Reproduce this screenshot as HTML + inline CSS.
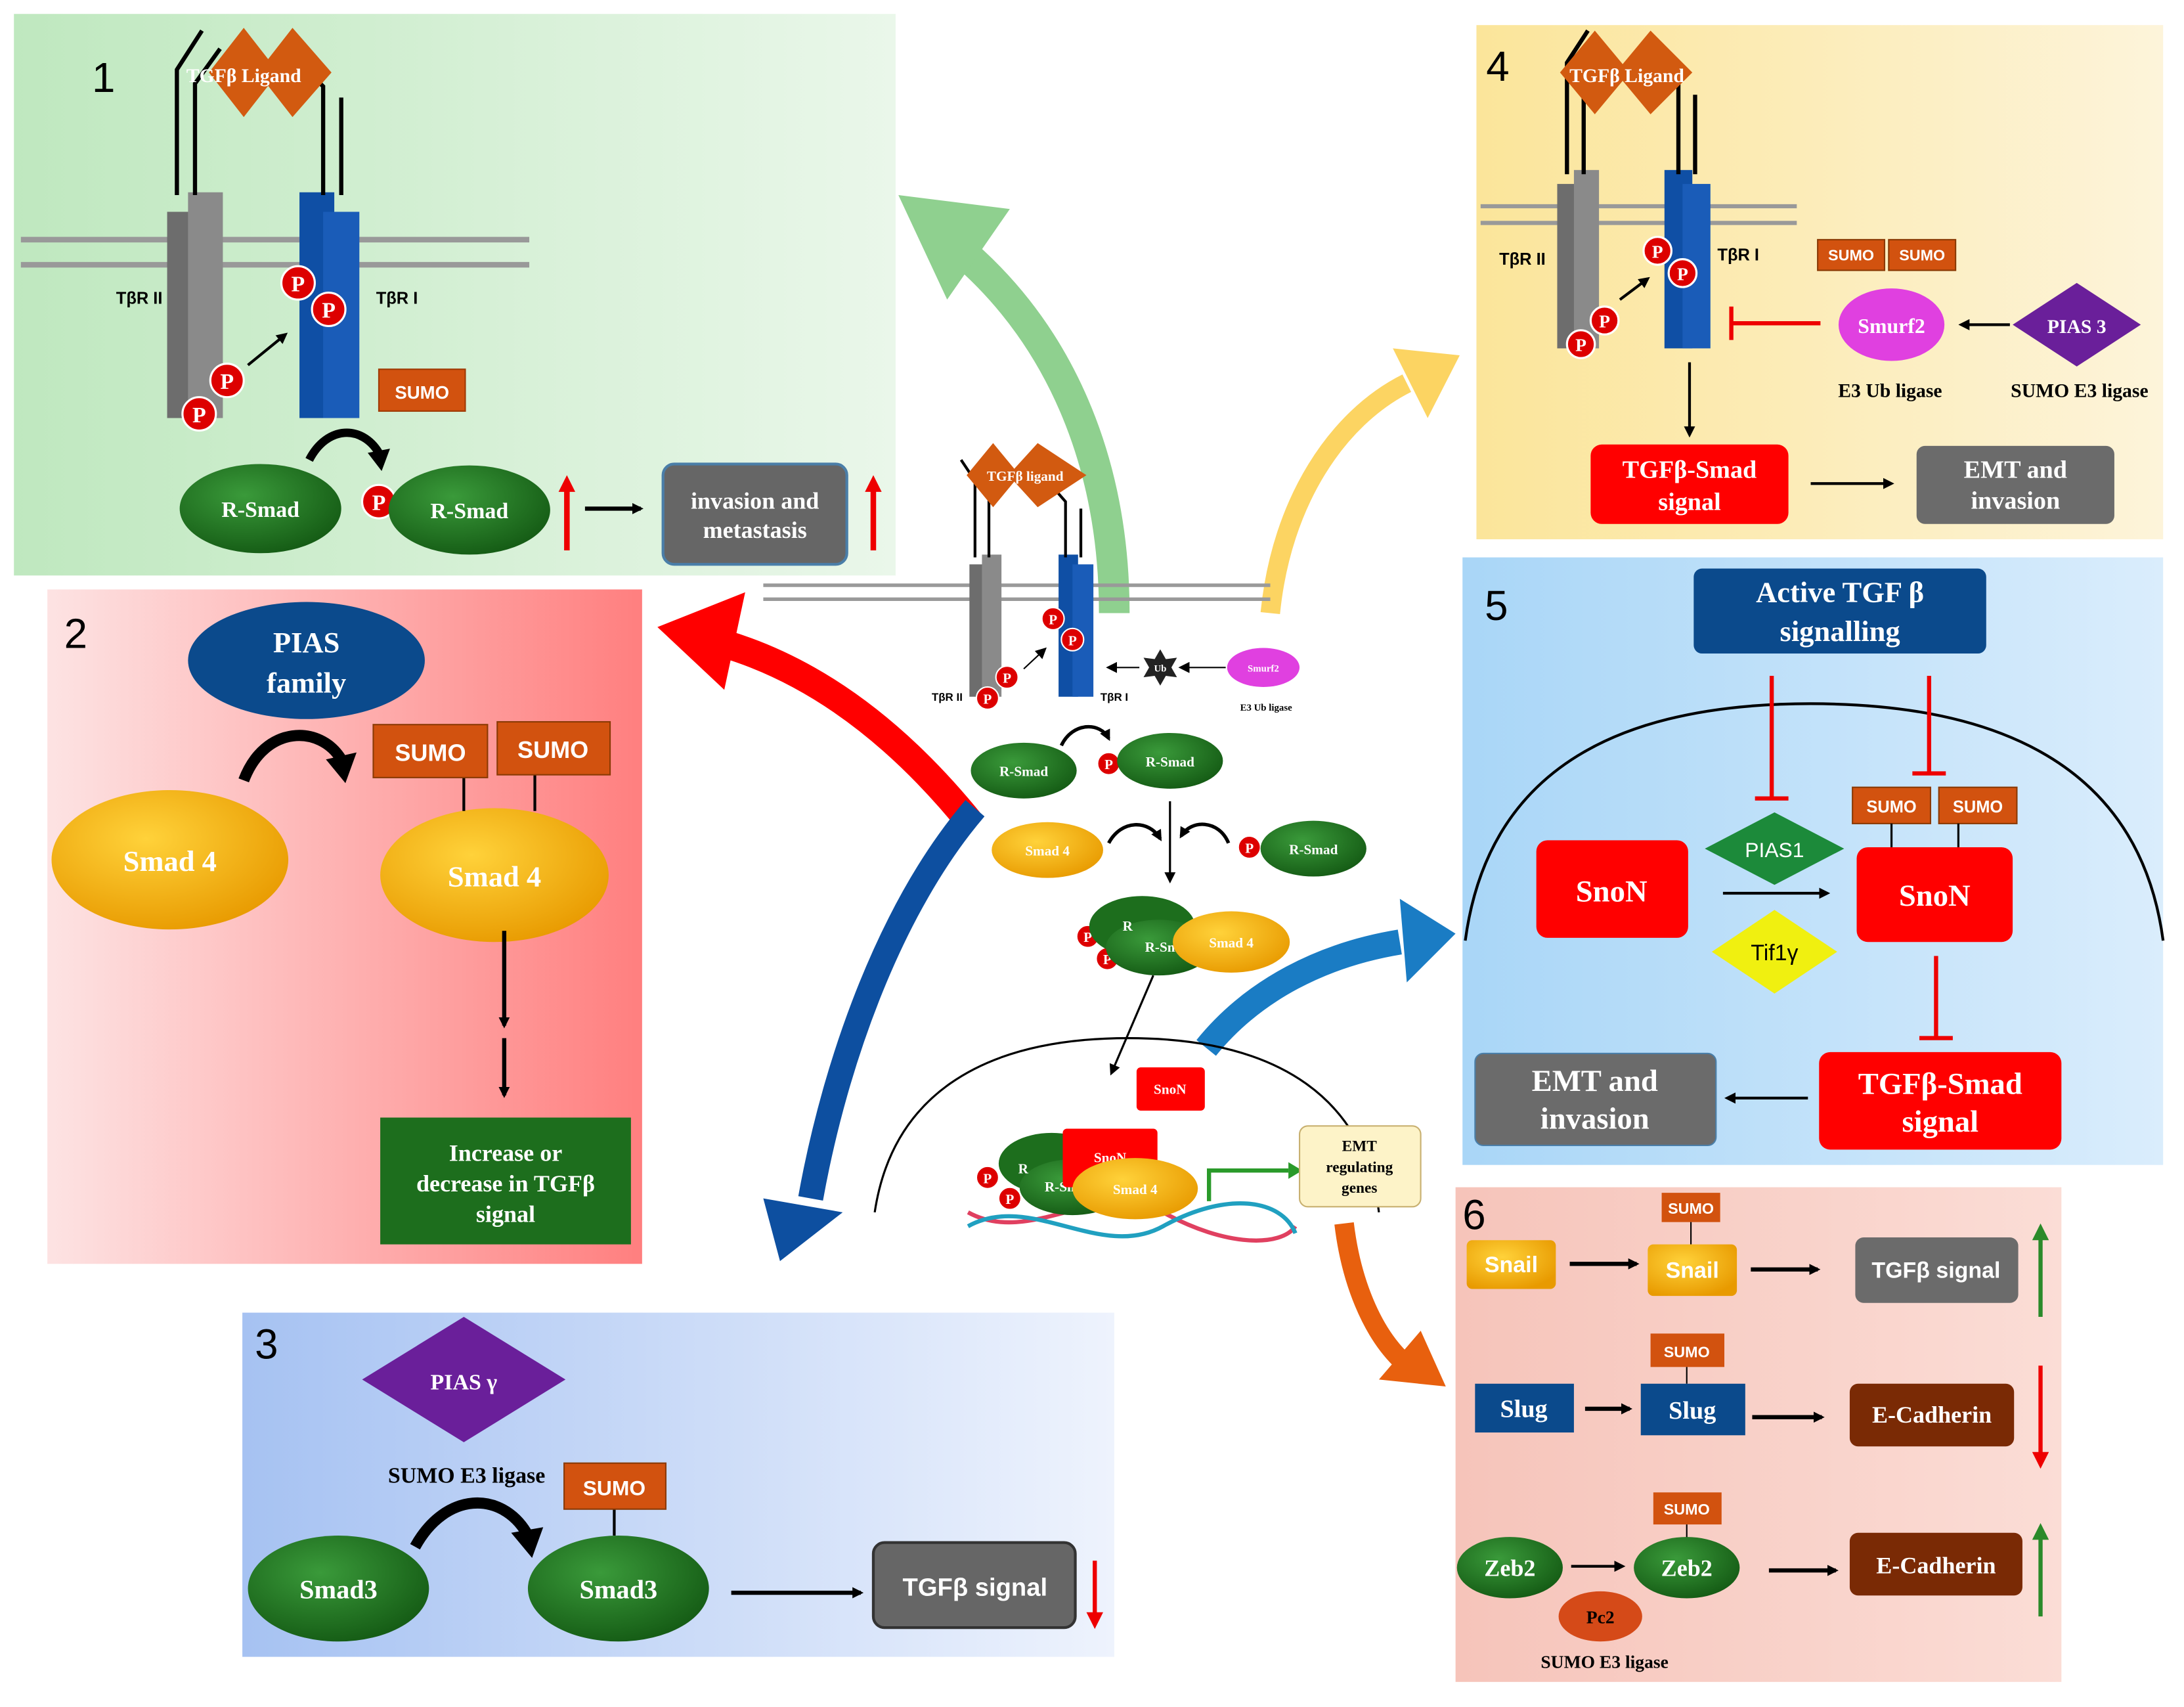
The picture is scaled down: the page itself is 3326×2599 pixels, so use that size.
<!DOCTYPE html>
<html><head><meta charset="utf-8"><style>html,body{margin:0;padding:0;background:#fff}svg{display:block}text{font-family:"Liberation Serif",serif;font-weight:bold}</style></head>
<body>
<svg width="3326" height="2599" viewBox="0 0 1568 1225" preserveAspectRatio="none" xmlns="http://www.w3.org/2000/svg">
<defs>
<linearGradient id="g1" x1="0" y1="0" x2="1" y2="0"><stop offset="0" stop-color="#bfe8bf"/><stop offset="1" stop-color="#eaf7ea"/></linearGradient>
<linearGradient id="g2" x1="0" y1="0" x2="1" y2="0"><stop offset="0" stop-color="#fde3e3"/><stop offset="1" stop-color="#ff7f7f"/></linearGradient>
<linearGradient id="g3" x1="0" y1="0" x2="1" y2="0"><stop offset="0" stop-color="#a6c2f2"/><stop offset="1" stop-color="#eef3fd"/></linearGradient>
<linearGradient id="g4" x1="0" y1="0" x2="1" y2="0"><stop offset="0" stop-color="#fbe59a"/><stop offset="1" stop-color="#fdf4da"/></linearGradient>
<linearGradient id="g5" x1="0" y1="0" x2="1" y2="0"><stop offset="0" stop-color="#a9d6f7"/><stop offset="1" stop-color="#daedfc"/></linearGradient>
<linearGradient id="g6" x1="0" y1="0" x2="1" y2="0"><stop offset="0" stop-color="#f6c4ba"/><stop offset="1" stop-color="#fbddd6"/></linearGradient>
<radialGradient id="gs" cx="0.4" cy="0.35" r="0.7"><stop offset="0" stop-color="#3a9a3a"/><stop offset="1" stop-color="#145a14"/></radialGradient>
<radialGradient id="ys" cx="0.4" cy="0.35" r="0.7"><stop offset="0" stop-color="#ffd23a"/><stop offset="1" stop-color="#e89a00"/></radialGradient>
<marker id="ah" markerWidth="8" markerHeight="8" refX="6" refY="4" orient="auto" markerUnits="userSpaceOnUse"><path d="M0,0 L8,4 L0,8 z" fill="#000"/></marker>
<marker id="ahr" markerWidth="12" markerHeight="12" refX="8" refY="6" orient="auto" markerUnits="userSpaceOnUse"><path d="M0,0 L12,6 L0,12 z" fill="#e00"/></marker>
<marker id="ahg" markerWidth="12" markerHeight="12" refX="8" refY="6" orient="auto" markerUnits="userSpaceOnUse"><path d="M0,0 L12,6 L0,12 z" fill="#2a8a2a"/></marker>
</defs>
<rect width="1568" height="1225" fill="#fff"/>

<!-- panels -->
<rect x="10" y="10" width="633" height="403" fill="url(#g1)"/>
<rect x="34" y="423" width="427" height="484" fill="url(#g2)"/>
<rect x="174" y="942" width="626" height="247" fill="url(#g3)"/>
<rect x="1060" y="18" width="493" height="369" fill="url(#g4)"/>
<rect x="1050" y="400" width="503" height="436" fill="url(#g5)"/>
<rect x="1045" y="852" width="435" height="355" fill="url(#g6)"/>

<g font-family="Liberation Sans" font-size="30" fill="#000" style="font-weight:normal">
<text x="66" y="66" style="font-family:'Liberation Sans';font-weight:normal">1</text>
<text x="46" y="465" style="font-family:'Liberation Sans';font-weight:normal">2</text>
<text x="183" y="975" style="font-family:'Liberation Sans';font-weight:normal">3</text>
<text x="1067" y="58" style="font-family:'Liberation Sans';font-weight:normal">4</text>
<text x="1066" y="445" style="font-family:'Liberation Sans';font-weight:normal">5</text>
<text x="1050" y="882" style="font-family:'Liberation Sans';font-weight:normal">6</text>
</g>

<!-- big curved arrows -->
<path d="M800,440 C800,330 760,240 690,180" stroke="#8fd08f" stroke-width="22" fill="none"/>
<polygon points="645,140 725,150 680,215" fill="#8fd08f"/>
<path d="M912,440 C920,360 960,300 1010,275" stroke="#fcd462" stroke-width="14" fill="none"/>
<polygon points="1048,255 1000,250 1025,300" fill="#fcd462"/>
<path d="M698,592 C640,520 580,480 520,462" stroke="#f00" stroke-width="20" fill="none"/>
<polygon points="472,450 535,425 520,495" fill="#f00"/>
<path d="M700,580 C640,650 600,760 582,860" stroke="#0d4fa0" stroke-width="18" fill="none"/>
<polygon points="560,905 548,860 605,870" fill="#0d4fa0"/>
<path d="M866,752 C900,710 950,685 1005,676" stroke="#1a7cc4" stroke-width="18" fill="none"/>
<polygon points="1045,670 1005,645 1010,705" fill="#1a7cc4"/>
<path d="M965,878 C970,920 985,955 1005,975" stroke="#e8600e" stroke-width="14" fill="none"/>
<polygon points="1038,995 990,990 1020,955" fill="#e8600e"/>

<!-- Panel 1 -->
<line x1="15" y1="172" x2="380" y2="172" stroke="#999" stroke-width="4"/>
<line x1="15" y1="190" x2="380" y2="190" stroke="#999" stroke-width="4"/>
<rect x="120" y="152" width="25" height="148" fill="#6d6d6d"/><rect x="135" y="138" width="25" height="162" fill="#8a8a8a"/>
<polyline points="127,140 127,50 145,22" stroke="#000" stroke-width="3" fill="none"/>
<polyline points="140,140 140,60 158,35" stroke="#000" stroke-width="3" fill="none"/>
<rect x="215" y="138" width="25" height="162" fill="#0f4fa5"/><rect x="232" y="152" width="26" height="148" fill="#1a5cb8"/>
<polyline points="232,140 232,62 222,52" stroke="#000" stroke-width="3" fill="none"/>
<polyline points="245,140 245,70" stroke="#000" stroke-width="3" fill="none"/>
<polygon points="150,52 175,20 200,52 175,84" fill="#d25a10"/><polygon points="185,52 210,20 238,52 210,84" fill="#d25a10"/>
<text x="175" y="59" font-size="14" fill="#fff" text-anchor="middle">TGFβ Ligand</text>
<text x="100" y="218" font-size="12" fill="#000" text-anchor="middle" style="font-family:'Liberation Sans'">TβR II</text>
<text x="285" y="218" font-size="12" fill="#000" text-anchor="middle" style="font-family:'Liberation Sans'">TβR I</text>
<line x1="178" y1="262" x2="205" y2="240" stroke="#000" stroke-width="2" marker-end="url(#ah)"/>
<g fill="#d00" stroke="#fff" stroke-width="1.5"><circle cx="214" cy="203" r="12"/><circle cx="236" cy="222" r="12"/><circle cx="163" cy="273" r="12"/><circle cx="143" cy="297" r="12"/><circle cx="272" cy="360" r="12"/></g>
<g font-size="16" fill="#fff" text-anchor="middle"><text x="214" y="209">P</text><text x="236" y="228">P</text><text x="163" y="279">P</text><text x="143" y="303">P</text><text x="272" y="366">P</text></g>
<rect x="272" y="265" width="62" height="30" fill="#d2520f" stroke="#a03a05"/><text x="303" y="286" font-size="13" fill="#fff" text-anchor="middle" style="font-family:'Liberation Sans'">SUMO</text>
<ellipse cx="187" cy="365" rx="58" ry="32" fill="url(#gs)"/><text x="187" y="371" font-size="16" fill="#fff" text-anchor="middle">R-Smad</text>
<ellipse cx="337" cy="366" rx="58" ry="32" fill="url(#gs)"/><text x="337" y="372" font-size="16" fill="#fff" text-anchor="middle">R-Smad</text>
<path d="M222,330 C235,305 260,305 272,325" stroke="#000" stroke-width="6" fill="none"/><polygon points="264,325 280,322 274,338" fill="#000"/>
<line x1="407" y1="395" x2="407" y2="345" stroke="#e00" stroke-width="4" marker-end="url(#ahr)"/>
<line x1="420" y1="365" x2="460" y2="365" stroke="#000" stroke-width="3" marker-end="url(#ah)"/>
<rect x="476" y="333" width="132" height="72" rx="8" fill="#666" stroke="#4a7ea8" stroke-width="2"/>
<text x="542" y="365" font-size="17" fill="#fff" text-anchor="middle">invasion and</text><text x="542" y="386" font-size="17" fill="#fff" text-anchor="middle">metastasis</text>
<line x1="627" y1="395" x2="627" y2="345" stroke="#e00" stroke-width="4" marker-end="url(#ahr)"/>

<!-- Panel 2 -->
<ellipse cx="220" cy="474" rx="85" ry="42" fill="#0b4a8c"/>
<text x="220" y="468" font-size="21" fill="#fff" text-anchor="middle">PIAS</text><text x="220" y="497" font-size="21" fill="#fff" text-anchor="middle">family</text>
<ellipse cx="122" cy="617" rx="85" ry="50" fill="url(#ys)"/><text x="122" y="625" font-size="21" fill="#fff" text-anchor="middle">Smad 4</text>
<ellipse cx="355" cy="628" rx="82" ry="48" fill="url(#ys)"/><text x="355" y="636" font-size="21" fill="#fff" text-anchor="middle">Smad 4</text>
<line x1="333" y1="558" x2="333" y2="582" stroke="#000" stroke-width="2"/><line x1="384" y1="556" x2="384" y2="582" stroke="#000" stroke-width="2"/>
<rect x="268" y="520" width="82" height="38" fill="#d2520f" stroke="#8a3a05"/><text x="309" y="546" font-size="17" fill="#fff" text-anchor="middle" style="font-family:'Liberation Sans'">SUMO</text>
<rect x="357" y="518" width="81" height="38" fill="#d2520f" stroke="#8a3a05"/><text x="397" y="544" font-size="17" fill="#fff" text-anchor="middle" style="font-family:'Liberation Sans'">SUMO</text>
<path d="M175,560 C190,520 230,520 245,545" stroke="#000" stroke-width="8" fill="none"/><polygon points="234,545 256,540 248,562" fill="#000"/>
<line x1="362" y1="668" x2="362" y2="736" stroke="#000" stroke-width="3" marker-end="url(#ah)"/>
<line x1="362" y1="745" x2="362" y2="786" stroke="#000" stroke-width="3" marker-end="url(#ah)"/>
<rect x="273" y="802" width="180" height="91" fill="#1d6e1d"/>
<text x="363" y="833" font-size="17" fill="#fff" text-anchor="middle">Increase or</text><text x="363" y="855" font-size="17" fill="#fff" text-anchor="middle">decrease in TGFβ</text><text x="363" y="877" font-size="17" fill="#fff" text-anchor="middle">signal</text>

<!-- Panel 3 -->
<polygon points="260,990 333,945 406,990 333,1035" fill="#6a1f9a"/><text x="333" y="997" font-size="16" fill="#fff" text-anchor="middle">PIAS γ</text>
<text x="335" y="1064" font-size="16" fill="#000" text-anchor="middle">SUMO E3 ligase</text>
<ellipse cx="243" cy="1140" rx="65" ry="38" fill="url(#gs)"/><text x="243" y="1147" font-size="19" fill="#fff" text-anchor="middle">Smad3</text>
<ellipse cx="444" cy="1140" rx="65" ry="38" fill="url(#gs)"/><text x="444" y="1147" font-size="19" fill="#fff" text-anchor="middle">Smad3</text>
<line x1="441" y1="1083" x2="441" y2="1102" stroke="#000" stroke-width="2"/>
<rect x="405" y="1050" width="73" height="33" fill="#d2520f" stroke="#8a3a05"/><text x="441" y="1073" font-size="15" fill="#fff" text-anchor="middle" style="font-family:'Liberation Sans'">SUMO</text>
<path d="M298,1110 C320,1070 360,1070 378,1100" stroke="#000" stroke-width="8" fill="none"/><polygon points="367,1100 390,1096 382,1118" fill="#000"/>
<line x1="525" y1="1143" x2="618" y2="1143" stroke="#000" stroke-width="3" marker-end="url(#ah)"/>
<rect x="627" y="1107" width="145" height="61" rx="8" fill="#666" stroke="#333" stroke-width="2"/><text x="700" y="1145" font-size="18" fill="#fff" text-anchor="middle" style="font-family:'Liberation Sans';font-weight:bold">TGFβ signal</text>
<line x1="786" y1="1120" x2="786" y2="1165" stroke="#e00" stroke-width="3" marker-end="url(#ahr)"/>

<!-- Panel 4 -->
<line x1="1063" y1="148" x2="1290" y2="148" stroke="#999" stroke-width="3"/><line x1="1063" y1="160" x2="1290" y2="160" stroke="#999" stroke-width="3"/>
<rect x="1118" y="132" width="20" height="118" fill="#6d6d6d"/><rect x="1130" y="122" width="18" height="128" fill="#8a8a8a"/>
<polyline points="1125,125 1125,45 1140,22" stroke="#000" stroke-width="3" fill="none"/><polyline points="1137,125 1137,55 1150,35" stroke="#000" stroke-width="3" fill="none"/>
<rect x="1195" y="122" width="20" height="128" fill="#0f4fa5"/><rect x="1208" y="132" width="20" height="118" fill="#1a5cb8"/>
<polyline points="1205,125 1205,60 1196,50" stroke="#000" stroke-width="3" fill="none"/><polyline points="1217,125 1217,68" stroke="#000" stroke-width="3" fill="none"/>
<polygon points="1120,52 1145,22 1170,52 1145,82" fill="#d25a10"/><polygon points="1160,52 1185,22 1215,52 1185,82" fill="#d25a10"/>
<text x="1168" y="59" font-size="14" fill="#fff" text-anchor="middle">TGFβ Ligand</text>
<text x="1093" y="190" font-size="12" fill="#000" text-anchor="middle" style="font-family:'Liberation Sans'">TβR II</text>
<text x="1248" y="187" font-size="12" fill="#000" text-anchor="middle" style="font-family:'Liberation Sans'">TβR I</text>
<line x1="1163" y1="215" x2="1183" y2="200" stroke="#000" stroke-width="2" marker-end="url(#ah)"/>
<g fill="#d00" stroke="#fff" stroke-width="1.5"><circle cx="1190" cy="180" r="10"/><circle cx="1208" cy="196" r="10"/><circle cx="1152" cy="230" r="10"/><circle cx="1135" cy="247" r="10"/></g>
<g font-size="13" fill="#fff" text-anchor="middle"><text x="1190" y="185">P</text><text x="1208" y="201">P</text><text x="1152" y="235">P</text><text x="1135" y="252">P</text></g>
<rect x="1305" y="172" width="48" height="22" fill="#d2520f" stroke="#8a3a05"/><text x="1329" y="187" font-size="11" fill="#fff" text-anchor="middle" style="font-family:'Liberation Sans'">SUMO</text>
<rect x="1356" y="172" width="48" height="22" fill="#d2520f" stroke="#8a3a05"/><text x="1380" y="187" font-size="11" fill="#fff" text-anchor="middle" style="font-family:'Liberation Sans'">SUMO</text>
<ellipse cx="1358" cy="233" rx="38" ry="26" fill="#e040e0"/><text x="1358" y="239" font-size="15" fill="#fff" text-anchor="middle">Smurf2</text>
<polygon points="1445,233 1491,203 1537,233 1491,263" fill="#6a1f9a"/><text x="1491" y="239" font-size="14" fill="#fff" text-anchor="middle">PIAS 3</text>
<line x1="1443" y1="233" x2="1408" y2="233" stroke="#000" stroke-width="2" marker-end="url(#ah)"/>
<line x1="1307" y1="232" x2="1243" y2="232" stroke="#e00" stroke-width="3"/><line x1="1243" y1="220" x2="1243" y2="244" stroke="#e00" stroke-width="3"/>
<text x="1357" y="285" font-size="14" fill="#000" text-anchor="middle">E3 Ub ligase</text><text x="1493" y="285" font-size="14" fill="#000" text-anchor="middle">SUMO E3 ligase</text>
<line x1="1213" y1="260" x2="1213" y2="312" stroke="#000" stroke-width="2" marker-end="url(#ah)"/>
<rect x="1142" y="319" width="142" height="57" rx="8" fill="#f00"/><text x="1213" y="343" font-size="18" fill="#fff" text-anchor="middle">TGFβ-Smad</text><text x="1213" y="366" font-size="18" fill="#fff" text-anchor="middle">signal</text>
<line x1="1300" y1="347" x2="1358" y2="347" stroke="#000" stroke-width="2" marker-end="url(#ah)"/>
<rect x="1376" y="320" width="142" height="56" rx="6" fill="#6b6b6b"/><text x="1447" y="343" font-size="18" fill="#fff" text-anchor="middle">EMT and</text><text x="1447" y="365" font-size="18" fill="#fff" text-anchor="middle">invasion</text>

<!-- Panel 5 -->
<path d="M1052,675 C1070,540 1180,505 1300,505 C1420,505 1535,540 1553,675" stroke="#000" stroke-width="2" fill="none"/>
<rect x="1216" y="408" width="210" height="61" rx="6" fill="#0b4a8c"/><text x="1321" y="432" font-size="21" fill="#fff" text-anchor="middle">Active TGF β</text><text x="1321" y="460" font-size="21" fill="#fff" text-anchor="middle">signalling</text>
<line x1="1272" y1="485" x2="1272" y2="573" stroke="#e00" stroke-width="3"/><line x1="1260" y1="573" x2="1284" y2="573" stroke="#e00" stroke-width="3"/>
<line x1="1385" y1="485" x2="1385" y2="555" stroke="#e00" stroke-width="3"/><line x1="1373" y1="555" x2="1397" y2="555" stroke="#e00" stroke-width="3"/>
<rect x="1103" y="603" width="109" height="70" rx="8" fill="#f00"/><text x="1157" y="647" font-size="22" fill="#fff" text-anchor="middle">SnoN</text>
<polygon points="1224,609 1274,583 1324,609 1274,635" fill="#1c8a3a"/><text x="1274" y="615" font-size="15" fill="#fff" text-anchor="middle" style="font-family:'Liberation Sans';font-weight:normal">PIAS1</text>
<polygon points="1229,683 1274,653 1319,683 1274,713" fill="#f0f010"/><text x="1274" y="689" font-size="16" fill="#000" text-anchor="middle" style="font-family:'Liberation Sans';font-weight:normal">Tif1γ</text>
<line x1="1237" y1="641" x2="1312" y2="641" stroke="#000" stroke-width="2" marker-end="url(#ah)"/>
<rect x="1330" y="565" width="56" height="26" fill="#d2520f" stroke="#8a3a05"/><text x="1358" y="583" font-size="12" fill="#fff" text-anchor="middle" style="font-family:'Liberation Sans'">SUMO</text>
<rect x="1392" y="565" width="56" height="26" fill="#d2520f" stroke="#8a3a05"/><text x="1420" y="583" font-size="12" fill="#fff" text-anchor="middle" style="font-family:'Liberation Sans'">SUMO</text>
<line x1="1358" y1="591" x2="1358" y2="608" stroke="#000" stroke-width="1.5"/><line x1="1406" y1="591" x2="1406" y2="608" stroke="#000" stroke-width="1.5"/>
<rect x="1333" y="608" width="112" height="68" rx="8" fill="#f00"/><text x="1389" y="650" font-size="22" fill="#fff" text-anchor="middle">SnoN</text>
<line x1="1390" y1="686" x2="1390" y2="745" stroke="#e00" stroke-width="3"/><line x1="1378" y1="745" x2="1402" y2="745" stroke="#e00" stroke-width="3"/>
<rect x="1306" y="755" width="174" height="70" rx="8" fill="#f00"/><text x="1393" y="785" font-size="22" fill="#fff" text-anchor="middle">TGFβ-Smad</text><text x="1393" y="812" font-size="22" fill="#fff" text-anchor="middle">signal</text>
<line x1="1298" y1="788" x2="1240" y2="788" stroke="#000" stroke-width="2" marker-end="url(#ah)"/>
<rect x="1059" y="756" width="173" height="66" rx="6" fill="#6b6b6b" stroke="#4a7ea8"/><text x="1145" y="783" font-size="22" fill="#fff" text-anchor="middle">EMT and</text><text x="1145" y="810" font-size="22" fill="#fff" text-anchor="middle">invasion</text>

<!-- Panel 6 -->
<rect x="1053" y="890" width="64" height="35" rx="4" fill="url(#ys)"/><text x="1085" y="913" font-size="16" fill="#fff" text-anchor="middle" style="font-family:'Liberation Sans';font-weight:bold">Snail</text>
<line x1="1127" y1="907" x2="1175" y2="907" stroke="#000" stroke-width="3" marker-end="url(#ah)"/>
<rect x="1193" y="856" width="42" height="21" fill="#d2520f"/><text x="1214" y="871" font-size="11" fill="#fff" text-anchor="middle" style="font-family:'Liberation Sans'">SUMO</text><line x1="1214" y1="877" x2="1214" y2="893" stroke="#000"/>
<rect x="1183" y="893" width="64" height="37" rx="4" fill="url(#ys)"/><text x="1215" y="917" font-size="16" fill="#fff" text-anchor="middle" style="font-family:'Liberation Sans';font-weight:bold">Snail</text>
<line x1="1257" y1="911" x2="1305" y2="911" stroke="#000" stroke-width="3" marker-end="url(#ah)"/>
<rect x="1332" y="888" width="117" height="47" rx="6" fill="#6b6b6b"/><text x="1390" y="917" font-size="16" fill="#fff" text-anchor="middle" style="font-family:'Liberation Sans';font-weight:bold">TGFβ signal</text>
<line x1="1465" y1="945" x2="1465" y2="882" stroke="#2a8a2a" stroke-width="3" marker-end="url(#ahg)"/>
<rect x="1059" y="993" width="71" height="35" fill="#0b4a8c"/><text x="1094" y="1017" font-size="18" fill="#fff" text-anchor="middle">Slug</text>
<line x1="1138" y1="1011" x2="1170" y2="1011" stroke="#000" stroke-width="3" marker-end="url(#ah)"/>
<rect x="1185" y="957" width="53" height="24" fill="#d2520f"/><text x="1211" y="974" font-size="11" fill="#fff" text-anchor="middle" style="font-family:'Liberation Sans'">SUMO</text><line x1="1211" y1="981" x2="1211" y2="993" stroke="#000"/>
<rect x="1178" y="993" width="75" height="37" fill="#0b4a8c"/><text x="1215" y="1018" font-size="18" fill="#fff" text-anchor="middle">Slug</text>
<line x1="1258" y1="1017" x2="1308" y2="1017" stroke="#000" stroke-width="3" marker-end="url(#ah)"/>
<rect x="1328" y="993" width="118" height="45" rx="6" fill="#7a2a05"/><text x="1387" y="1021" font-size="17" fill="#fff" text-anchor="middle">E-Cadherin</text>
<line x1="1465" y1="980" x2="1465" y2="1050" stroke="#e00" stroke-width="3" marker-end="url(#ahr)"/>
<ellipse cx="1084" cy="1125" rx="38" ry="22" fill="url(#gs)"/><text x="1084" y="1131" font-size="17" fill="#fff" text-anchor="middle">Zeb2</text>
<line x1="1128" y1="1124" x2="1165" y2="1124" stroke="#000" stroke-width="2" marker-end="url(#ah)"/>
<rect x="1187" y="1071" width="49" height="23" fill="#d2520f"/><text x="1211" y="1087" font-size="11" fill="#fff" text-anchor="middle" style="font-family:'Liberation Sans'">SUMO</text><line x1="1211" y1="1094" x2="1211" y2="1104" stroke="#000"/>
<ellipse cx="1211" cy="1125" rx="38" ry="22" fill="url(#gs)"/><text x="1211" y="1131" font-size="17" fill="#fff" text-anchor="middle">Zeb2</text>
<ellipse cx="1149" cy="1160" rx="30" ry="18" fill="#d54a18"/><text x="1149" y="1165" font-size="13" fill="#000" text-anchor="middle">Pc2</text>
<text x="1152" y="1197" font-size="13" fill="#000" text-anchor="middle">SUMO E3 ligase</text>
<line x1="1270" y1="1127" x2="1318" y2="1127" stroke="#000" stroke-width="3" marker-end="url(#ah)"/>
<rect x="1328" y="1100" width="124" height="45" rx="6" fill="#7a2a05"/><text x="1390" y="1129" font-size="17" fill="#fff" text-anchor="middle">E-Cadherin</text>
<line x1="1465" y1="1160" x2="1465" y2="1097" stroke="#2a8a2a" stroke-width="3" marker-end="url(#ahg)"/>

<!-- Center diagram -->
<line x1="548" y1="420" x2="912" y2="420" stroke="#999" stroke-width="2.5"/><line x1="548" y1="430" x2="912" y2="430" stroke="#999" stroke-width="2.5"/>
<rect x="696" y="405" width="14" height="95" fill="#6d6d6d"/><rect x="705" y="398" width="14" height="102" fill="#8a8a8a"/>
<polyline points="700,400 700,345 690,330" stroke="#000" stroke-width="2" fill="none"/><polyline points="710,400 710,350 720,338" stroke="#000" stroke-width="2" fill="none"/>
<rect x="760" y="398" width="14" height="102" fill="#0f4fa5"/><rect x="770" y="405" width="15" height="95" fill="#1a5cb8"/>
<polyline points="765,400 765,360 758,352" stroke="#000" stroke-width="2" fill="none"/><polyline points="776,400 776,365" stroke="#000" stroke-width="2" fill="none"/>
<polygon points="694,341 713,318 732,341 713,364" fill="#d25a10"/><polygon points="724,341 745,318 780,341 745,364" fill="#d25a10"/>
<text x="736" y="345" font-size="10" fill="#fff" text-anchor="middle">TGFβ ligand</text>
<text x="680" y="503" font-size="8" text-anchor="middle" style="font-family:'Liberation Sans'">TβR II</text><text x="800" y="503" font-size="8" text-anchor="middle" style="font-family:'Liberation Sans'">TβR I</text>
<g fill="#d00" stroke="#fff"><circle cx="756" cy="444" r="8"/><circle cx="770" cy="459" r="8"/><circle cx="723" cy="486" r="8"/><circle cx="709" cy="501" r="8"/><circle cx="796" cy="548" r="8"/><circle cx="897" cy="608" r="8"/><circle cx="781" cy="672" r="8"/><circle cx="795" cy="688" r="8"/><circle cx="709" cy="845" r="8"/><circle cx="725" cy="860" r="8"/></g>
<g font-size="10" fill="#fff" text-anchor="middle"><text x="756" y="448">P</text><text x="770" y="463">P</text><text x="723" y="490">P</text><text x="709" y="505">P</text><text x="796" y="552">P</text><text x="897" y="612">P</text><text x="781" y="676">P</text><text x="795" y="692">P</text><text x="709" y="849">P</text><text x="725" y="864">P</text></g>
<line x1="735" y1="480" x2="750" y2="466" stroke="#000" marker-end="url(#ah)"/>
<polygon points="833,466 837,473 845,472 841,479 845,486 837,485 833,492 829,485 821,486 825,479 821,472 829,473" fill="#222"/><text x="833" y="482" font-size="7" fill="#fff" text-anchor="middle">Ub</text>
<line x1="818" y1="479" x2="796" y2="479" stroke="#000" marker-end="url(#ah)"/>
<line x1="880" y1="479" x2="848" y2="479" stroke="#000" marker-end="url(#ah)"/>
<ellipse cx="907" cy="479" rx="26" ry="14" fill="#e040e0"/><text x="907" y="482" font-size="7" fill="#fff" text-anchor="middle">Smurf2</text>
<text x="909" y="510" font-size="7" text-anchor="middle">E3 Ub ligase</text>
<ellipse cx="735" cy="553" rx="38" ry="20" fill="url(#gs)"/><text x="735" y="557" font-size="10" fill="#fff" text-anchor="middle">R-Smad</text>
<ellipse cx="840" cy="546" rx="38" ry="20" fill="url(#gs)"/><text x="840" y="550" font-size="10" fill="#fff" text-anchor="middle">R-Smad</text>
<path d="M762,535 C770,518 790,518 796,530" stroke="#000" stroke-width="2.5" fill="none" marker-end="url(#ah)"/>
<ellipse cx="752" cy="610" rx="40" ry="20" fill="url(#ys)"/><text x="752" y="614" font-size="10" fill="#fff" text-anchor="middle">Smad 4</text>
<ellipse cx="943" cy="609" rx="38" ry="20" fill="url(#gs)"/><text x="943" y="613" font-size="10" fill="#fff" text-anchor="middle">R-Smad</text>
<path d="M796,605 C805,588 825,588 833,602" stroke="#000" stroke-width="2.5" fill="none" marker-end="url(#ah)"/>
<path d="M882,605 C875,588 855,588 848,600" stroke="#000" stroke-width="2.5" fill="none" marker-end="url(#ah)"/>
<line x1="840" y1="575" x2="840" y2="632" stroke="#000" stroke-width="1.5" marker-end="url(#ah)"/>
<ellipse cx="820" cy="665" rx="38" ry="22" fill="#1d6e1d"/><ellipse cx="832" cy="680" rx="38" ry="20" fill="url(#gs)"/>
<text x="806" y="668" font-size="10" fill="#fff">R</text><text x="822" y="683" font-size="10" fill="#fff">R-Sm</text>
<ellipse cx="884" cy="676" rx="42" ry="22" fill="url(#ys)"/><text x="884" y="680" font-size="10" fill="#fff" text-anchor="middle">Smad 4</text>
<path d="M628,870 C640,790 700,745 810,745 C920,745 980,790 990,870" stroke="#000" stroke-width="1.5" fill="none"/>
<line x1="828" y1="700" x2="798" y2="770" stroke="#000" stroke-width="1.5" marker-end="url(#ah)"/>
<rect x="816" y="766" width="49" height="31" rx="3" fill="#f00"/><text x="840" y="785" font-size="10" fill="#fff" text-anchor="middle">SnoN</text>
<path d="M695,870 C740,895 790,845 835,870 S920,895 930,880" stroke="#e04060" stroke-width="3" fill="none"/>
<path d="M695,880 C740,855 790,905 835,880 S920,860 930,885" stroke="#20a0c0" stroke-width="3" fill="none"/>
<ellipse cx="755" cy="835" rx="38" ry="22" fill="#1d6e1d"/><ellipse cx="770" cy="852" rx="38" ry="20" fill="url(#gs)"/>
<text x="731" y="842" font-size="10" fill="#fff">R</text><text x="750" y="855" font-size="10" fill="#fff">R-Sm</text>
<rect x="763" y="810" width="68" height="42" rx="3" fill="#f00"/><text x="797" y="834" font-size="10" fill="#fff" text-anchor="middle">SnoN</text>
<ellipse cx="815" cy="853" rx="45" ry="22" fill="url(#ys)"/><text x="815" y="857" font-size="10" fill="#fff" text-anchor="middle">Smad 4</text>
<polyline points="868,862 868,840 925,840" stroke="#2a9a2a" stroke-width="3" fill="none"/><polygon points="925,834 935,840 925,846" fill="#2a9a2a"/>
<rect x="933" y="808" width="87" height="58" rx="6" fill="#fdf3c8" stroke="#c8b070"/>
<text x="976" y="826" font-size="11" text-anchor="middle">EMT</text><text x="976" y="841" font-size="11" text-anchor="middle">regulating</text><text x="976" y="856" font-size="11" text-anchor="middle">genes</text>
</svg>
</body></html>
